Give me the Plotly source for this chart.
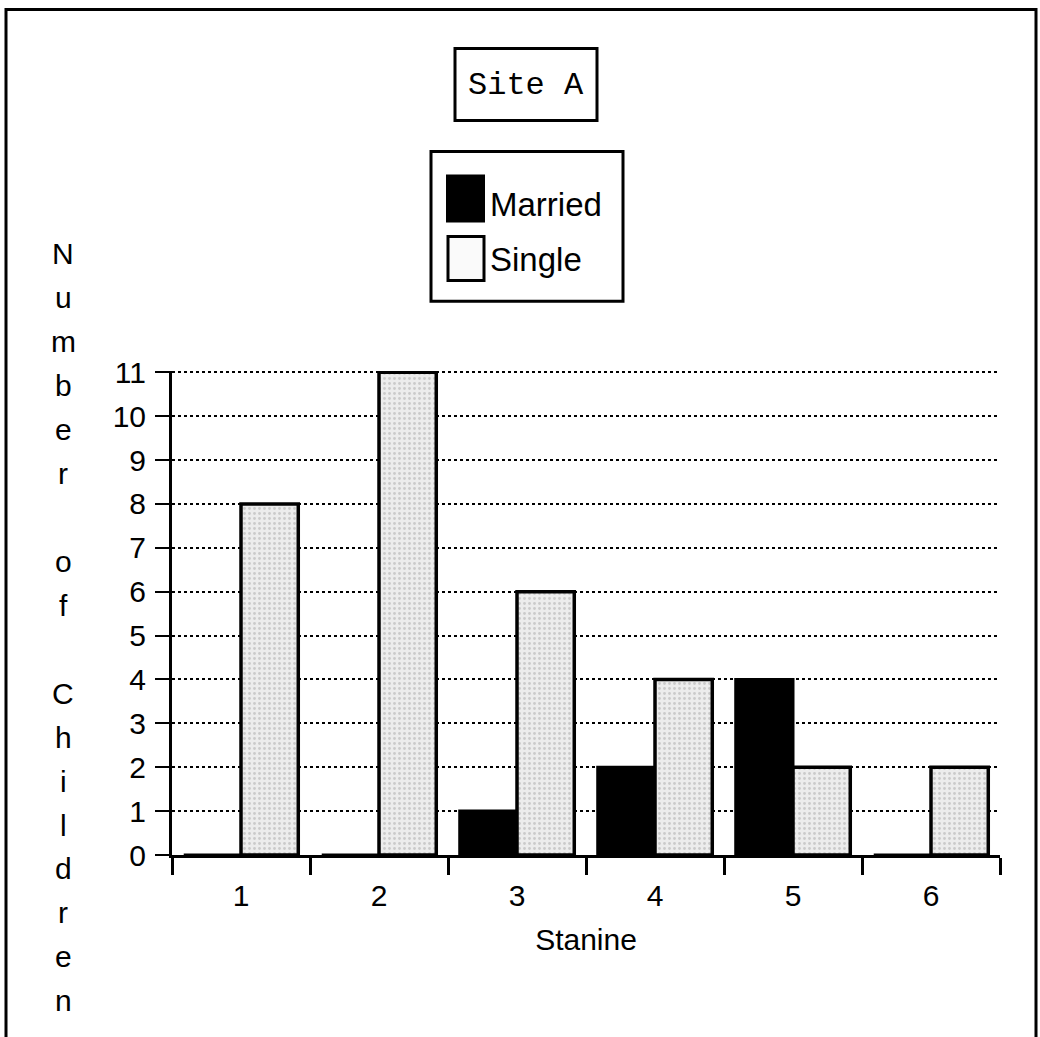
import plotly.graph_objects as go

# ---- data ----
stanine = ["1", "2", "3", "4", "5", "6"]
married = [0, 0, 1, 2, 4, 0]
single = [8, 11, 6, 4, 2, 2]
y_ticks = list(range(0, 12))
title_text = "Site A"
y_title = "Number of Children"
x_title = "Stanine"
series_names = ["Married", "Single"]

# ---- layout geometry (pixels) ----
W_FIG, H_FIG = 1040, 1037
Y_MAX = 11.03                      # a hair above 11 so the top gridline shows
Y0_PX, Y11_PX = 855, 372           # pixel rows of y=0 and y=11
M_L, M_R = 172, 40
M_B = H_FIG - Y0_PX
PH = (Y0_PX - Y11_PX) * Y_MAX / 11
M_T = H_FIG - M_B - PH
PW = W_FIG - M_L - M_R

SANS = "Liberation Sans, Arial, Helvetica, sans-serif"
MONO = "Liberation Mono, Courier New, monospace"


def px_x(px):
    return (px - M_L) / PW


def px_y(py):
    return (Y0_PX - py) / PH


fig = go.Figure()

fig.add_trace(go.Bar(
    x=stanine, y=married, name=series_names[0],
    marker=dict(color="black", line=dict(color="black", width=3)),
    showlegend=False,
))
fig.add_trace(go.Bar(
    x=stanine, y=single, name=series_names[1],
    marker=dict(
        color="#e9e9e9",
        line=dict(color="black", width=3.5),
        pattern=dict(shape=".", fgcolor="#a8a8a8", bgcolor="#ececec",
                     size=5, solidity=0.25),
    ),
    showlegend=False,
))

shapes = []
annotations = []

# outer frame
shapes.append(dict(type="rect", xref="paper", yref="paper",
                   x0=px_x(6), x1=px_x(1036), y0=px_y(1060), y1=px_y(9),
                   line=dict(color="black", width=3), fillcolor="rgba(0,0,0,0)",
                   layer="above"))

# title box
shapes.append(dict(type="rect", xref="paper", yref="paper",
                   x0=px_x(455), x1=px_x(597), y0=px_y(120), y1=px_y(48),
                   line=dict(color="black", width=3), fillcolor="white"))
annotations.append(dict(text=title_text, xref="paper", yref="paper",
                        x=px_x(526), y=px_y(85), showarrow=False,
                        xanchor="center", yanchor="middle",
                        font=dict(family=MONO, size=32, color="black")))

# legend box and swatches
shapes.append(dict(type="rect", xref="paper", yref="paper",
                   x0=px_x(431), x1=px_x(623), y0=px_y(301), y1=px_y(151),
                   line=dict(color="black", width=3), fillcolor="white"))
shapes.append(dict(type="rect", xref="paper", yref="paper",
                   x0=px_x(447), x1=px_x(484), y0=px_y(221), y1=px_y(175),
                   line=dict(color="black", width=2), fillcolor="black"))
shapes.append(dict(type="rect", xref="paper", yref="paper",
                   x0=px_x(448), x1=px_x(484), y0=px_y(280), y1=px_y(236),
                   line=dict(color="black", width=3), fillcolor="#fafafa"))
for name, yc in zip(series_names, [204, 259]):
    annotations.append(dict(text=name, xref="paper", yref="paper",
                            x=px_x(488), y=px_y(yc), showarrow=False,
                            xanchor="left", yanchor="middle",
                            font=dict(family=SANS, size=33, color="black")))

# vertical stacked y-axis title, one character per line
line_gap = 44
y_first = 253
lines = []
for word in y_title.split(" "):
    lines.extend(list(word))
    lines.append("")
lines = lines[:-1]
for i, ch in enumerate(lines):
    if ch:
        annotations.append(dict(text=ch, xref="paper", yref="paper",
                                x=px_x(63), y=px_y(y_first + i * line_gap),
                                showarrow=False, xanchor="center",
                                yanchor="middle",
                                font=dict(family=SANS, size=30, color="black")))

fig.update_layout(
    width=W_FIG, height=H_FIG,
    margin=dict(l=M_L, r=M_R, t=M_T, b=M_B, pad=0),
    paper_bgcolor="white", plot_bgcolor="white",
    barmode="group", bargap=0.17, bargroupgap=0.0,
    font=dict(family=SANS, size=30, color="black"),
    shapes=shapes, annotations=annotations,
    showlegend=False,
)

fig.update_xaxes(
    type="category", categoryorder="array", categoryarray=stanine,
    showline=True, linecolor="black", linewidth=3,
    ticks="outside", tickson="boundaries", ticklen=17, tickwidth=2.5,
    tickcolor="black", ticklabelstandoff=12,
    showgrid=False, zeroline=False,
    tickfont=dict(family=SANS, size=30, color="black"),
    title=dict(text=x_title, standoff=18,
               font=dict(family=SANS, size=30, color="black")),
)
fig.update_yaxes(
    range=[0, Y_MAX], tickmode="array", tickvals=y_ticks,
    showline=True, linecolor="black", linewidth=3,
    ticks="outside", ticklen=14, tickwidth=2, tickcolor="black",
    ticklabelstandoff=3,
    showgrid=True, gridcolor="black", gridwidth=1.5, griddash="dot",
    zeroline=False,
    tickfont=dict(family=SANS, size=30, color="black"),
)

fig.write_html("out.html")
